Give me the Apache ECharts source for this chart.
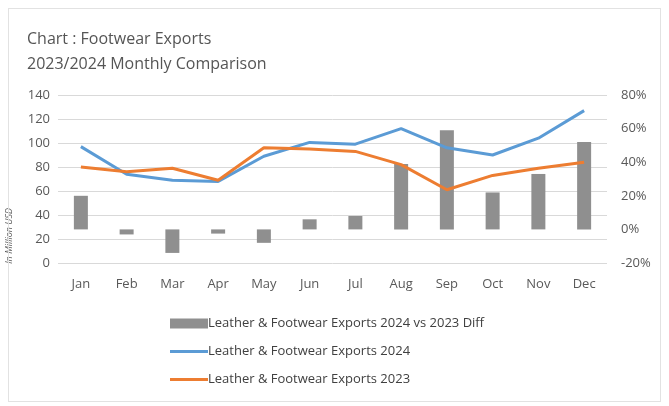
<!DOCTYPE html>
<html>
<head>
<meta charset="utf-8">
<script src="https://cdn.jsdelivr.net/npm/echarts@6/dist/echarts.min.js"></script>
<style>
  html, body { margin: 0; padding: 0; background: #fff; }
  #chart { width: 669px; height: 406px; }
  .frame { position: absolute; left: 8px; top: 8px; width: 651px; height: 392px; border: 1px solid #e2e2e2; pointer-events: none; }
</style>
</head>
<body>
<div id="chart"></div>
<div class="frame"></div>
<script>
  // 月份
  const months = ['Jan', 'Feb', 'Mar', 'Apr', 'May', 'Jun', 'Jul', 'Aug', 'Sep', 'Oct', 'Nov', 'Dec']
  // 2024 / 2023 出口 (Million USD)
  const exports2024 = [97, 74, 69, 68, 89, 100.5, 99, 112, 96, 90, 104, 127]
  const exports2023 = [80, 76, 79, 69, 96, 95, 93, 82, 61, 73, 79, 84]
  // 差异 %
  const diffPct = [20, -3, -14, -2.5, -8, 6, 8, 39, 59, 22, 33, 52]

  const font = '"Open Sans", "Noto Sans", sans-serif'
  const lineIcon = 'path://M0,0 L38,0 L38,3 L0,3 Z'
  const chart = echarts.init(document.getElementById('chart'))

  const option = {
    animation: false,
    backgroundColor: '#fff',
    textStyle: { fontFamily: font },
    title: {
      text: 'Chart : Footwear Exports\n2023/2024 Monthly Comparison',
      left: 22,
      top: 22,
      textStyle: { fontSize: 16, fontWeight: 'normal', color: '#555555', lineHeight: 25, fontFamily: font }
    },
    graphic: [{
      type: 'text',
      left: 5,
      top: 208,
      rotation: Math.PI / 2,
      style: { text: 'In Million USD', fontSize: 9, fontStyle: 'italic', fill: '#595959', fontFamily: font }
    }],
    legend: {
      orient: 'vertical',
      left: 165,
      top: 312,
      itemGap: 15,
      itemWidth: 38,
      itemHeight: 10,
      textStyle: { fontSize: 13, color: '#404040', padding: [0, 0, 0, -5] },
      data: [
        { name: 'Leather & Footwear Exports 2024 vs 2023 Diff', icon: 'rect' },
        { name: 'Leather & Footwear Exports 2024', icon: lineIcon },
        { name: 'Leather & Footwear Exports 2023', icon: lineIcon }
      ]
    },
    grid: { left: 58, right: 62, top: 95, bottom: 143 },
    xAxis: {
      type: 'category',
      data: months,
      axisLine: { show: false },
      axisTick: { show: false },
      axisLabel: { color: '#595959', fontSize: 13, margin: 15 }
    },
    yAxis: [
      {
        type: 'value', min: 0, max: 140, interval: 20,
        axisLabel: { color: '#595959', fontSize: 13, margin: 8 },
        splitLine: { lineStyle: { color: '#d9d9d9' } },
        axisLine: { show: false }, axisTick: { show: false }
      },
      {
        type: 'value', min: -20, max: 80, interval: 20,
        axisLabel: { color: '#595959', fontSize: 13, formatter: '{value}%', margin: 14 },
        splitLine: { show: false },
        axisLine: { show: false }, axisTick: { show: false }
      }
    ],
    series: [
      {
        name: 'Leather & Footwear Exports 2024 vs 2023 Diff',
        type: 'bar',
        yAxisIndex: 1,
        data: diffPct,
        barWidth: 14,
        itemStyle: { color: '#8f8f8f' }
      },
      {
        name: 'Leather & Footwear Exports 2024',
        type: 'line',
        data: exports2024,
        symbol: 'none',
        lineStyle: { width: 3, color: '#5b9bd5' },
        itemStyle: { color: '#5b9bd5' }
      },
      {
        name: 'Leather & Footwear Exports 2023',
        type: 'line',
        data: exports2023,
        symbol: 'none',
        lineStyle: { width: 3, color: '#ed7d31' },
        itemStyle: { color: '#ed7d31' }
      }
    ]
  }
  chart.setOption(option)
</script>
</body>
</html>
